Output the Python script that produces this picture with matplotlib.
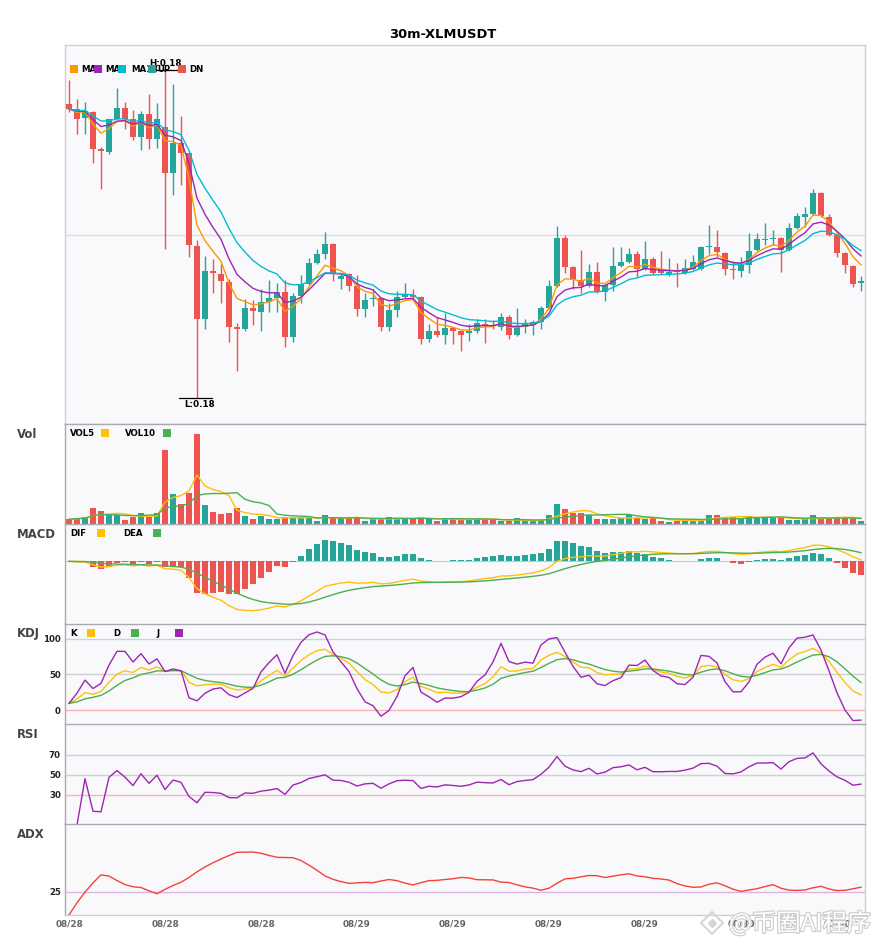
import numpy as np
import pandas as pd
import matplotlib
matplotlib.use("Agg")
import matplotlib.pyplot as plt
from matplotlib.patches import Rectangle
from matplotlib.lines import Line2D
import matplotlib.patheffects as pe

# ---------------- data ----------------
title = "30m-XLMUSDT"
x_label_pos = [0, 12, 24, 36, 48, 60, 72, 84, 96]
x_labels = ["08/28", "08/28", "08/28", "08/29", "08/29", "08/29", "08/29", "08/30", "08/30"]

open_ = [0.18262, 0.18252, 0.18234, 0.18246, 0.18172, 0.18166, 0.18232, 0.18254, 0.18232, 0.18196,
         0.18242, 0.18192, 0.18216, 0.18124, 0.18184, 0.18164, 0.17978, 0.17832, 0.17928, 0.17922,
         0.17906, 0.17816, 0.17812, 0.17854, 0.17846, 0.17866, 0.17874, 0.17886, 0.17796, 0.17878,
         0.17902, 0.17944, 0.17962, 0.17982, 0.17912, 0.17922, 0.17898, 0.17852, 0.17872, 0.17874,
         0.17816, 0.17850, 0.17876, 0.17880, 0.17876, 0.17792, 0.17808, 0.17800, 0.17814, 0.17808,
         0.17804, 0.17808, 0.17822, 0.17820, 0.17816, 0.17836, 0.17800, 0.17816, 0.17820, 0.17826,
         0.17854, 0.17898, 0.17994, 0.17936, 0.17910, 0.17898, 0.17926, 0.17886, 0.17900, 0.17938,
         0.17946, 0.17962, 0.17932, 0.17952, 0.17932, 0.17922, 0.17928, 0.17924, 0.17932, 0.17932,
         0.17976, 0.17976, 0.17964, 0.17932, 0.17928, 0.17940, 0.17970, 0.17990, 0.17992, 0.17994,
         0.17970, 0.18014, 0.18036, 0.18042, 0.18084, 0.18036, 0.18000, 0.17964, 0.17938, 0.17904]
high = [0.18310, 0.18272, 0.18266, 0.18248, 0.18176, 0.18232, 0.18294, 0.18266, 0.18250, 0.18248,
        0.18282, 0.18264, 0.18330, 0.18302, 0.18238, 0.18164, 0.17990, 0.17958, 0.17952, 0.17942,
        0.17912, 0.17824, 0.17872, 0.17870, 0.17892, 0.17910, 0.17904, 0.17910, 0.17884, 0.17920,
        0.17954, 0.17972, 0.18006, 0.17984, 0.17924, 0.17924, 0.17920, 0.17884, 0.17892, 0.17876,
        0.17864, 0.17888, 0.17904, 0.17892, 0.17878, 0.17822, 0.17836, 0.17844, 0.17816, 0.17810,
        0.17822, 0.17832, 0.17832, 0.17830, 0.17844, 0.17840, 0.17854, 0.17832, 0.17830, 0.17858,
        0.17910, 0.18018, 0.18000, 0.17938, 0.17970, 0.17942, 0.17946, 0.17902, 0.17976, 0.17976,
        0.17974, 0.17968, 0.17988, 0.17956, 0.17968, 0.17954, 0.17944, 0.17952, 0.17960, 0.17978,
        0.18020, 0.18010, 0.17966, 0.17948, 0.17956, 0.18004, 0.18004, 0.18024, 0.18010, 0.17996,
        0.18024, 0.18044, 0.18056, 0.18092, 0.18086, 0.18042, 0.18002, 0.17966, 0.17940, 0.17918]
low = [0.18246, 0.18202, 0.18202, 0.18144, 0.18092, 0.18162, 0.18232, 0.18212, 0.18190, 0.18170,
       0.18172, 0.18174, 0.17972, 0.18080, 0.18100, 0.17956, 0.17674, 0.17812, 0.17884, 0.17864,
       0.17786, 0.17728, 0.17808, 0.17820, 0.17808, 0.17846, 0.17846, 0.17776, 0.17786, 0.17864,
       0.17900, 0.17942, 0.17952, 0.17908, 0.17892, 0.17888, 0.17838, 0.17836, 0.17858, 0.17808,
       0.17808, 0.17836, 0.17874, 0.17870, 0.17782, 0.17786, 0.17796, 0.17782, 0.17782, 0.17768,
       0.17788, 0.17804, 0.17784, 0.17812, 0.17810, 0.17792, 0.17798, 0.17804, 0.17800, 0.17812,
       0.17852, 0.17896, 0.17924, 0.17892, 0.17884, 0.17896, 0.17884, 0.17868, 0.17888, 0.17936,
       0.17944, 0.17916, 0.17930, 0.17922, 0.17922, 0.17918, 0.17896, 0.17922, 0.17930, 0.17930,
       0.17962, 0.17956, 0.17920, 0.17912, 0.17916, 0.17924, 0.17968, 0.17980, 0.17980, 0.17926,
       0.17968, 0.18012, 0.18016, 0.18040, 0.18036, 0.17998, 0.17956, 0.17924, 0.17896, 0.17888]
close = [0.18252, 0.18232, 0.18248, 0.18172, 0.18168, 0.18232, 0.18254, 0.18232, 0.18196, 0.18242,
         0.18192, 0.18232, 0.18124, 0.18184, 0.18164, 0.17980, 0.17832, 0.17928, 0.17924, 0.17908,
         0.17816, 0.17812, 0.17854, 0.17848, 0.17866, 0.17874, 0.17886, 0.17796, 0.17878, 0.17902,
         0.17944, 0.17962, 0.17982, 0.17922, 0.17918, 0.17898, 0.17852, 0.17870, 0.17874, 0.17816,
         0.17850, 0.17876, 0.17880, 0.17876, 0.17792, 0.17808, 0.17800, 0.17814, 0.17808, 0.17800,
         0.17808, 0.17824, 0.17820, 0.17818, 0.17836, 0.17800, 0.17816, 0.17822, 0.17826, 0.17854,
         0.17898, 0.17994, 0.17936, 0.17910, 0.17898, 0.17926, 0.17886, 0.17900, 0.17938, 0.17946,
         0.17962, 0.17932, 0.17952, 0.17924, 0.17924, 0.17926, 0.17926, 0.17934, 0.17946, 0.17976,
         0.17978, 0.17966, 0.17932, 0.17930, 0.17940, 0.17968, 0.17992, 0.17992, 0.17994, 0.17970,
         0.18014, 0.18038, 0.18042, 0.18084, 0.18038, 0.18000, 0.17964, 0.17940, 0.17902, 0.17908]
volume = [47, 60, 67, 160, 133, 87, 87, 40, 73, 107,
          73, 107, 740, 300, 200, 313, 900, 190, 120, 100,
          110, 160, 80, 50, 80, 53, 53, 67, 67, 67,
          67, 27, 93, 60, 60, 60, 60, 33, 47, 47,
          73, 53, 60, 53, 73, 47, 27, 53, 47, 47,
          53, 53, 47, 40, 27, 27, 60, 27, 27, 40,
          93, 200, 153, 113, 107, 87, 53, 53, 47, 60,
          87, 60, 47, 60, 33, 20, 33, 33, 47, 33,
          93, 93, 67, 67, 53, 80, 67, 67, 67, 60,
          40, 40, 47, 87, 60, 60, 73, 60, 73, 27]
ma_spans = [5, 8, 13]
ma_labels = ["MA5", "MA8", "MA13"]
vol_ma_periods = [5, 10]
adx_period = 14

# ---------------- indicators ----------------
o = pd.Series(open_); h = pd.Series(high); l = pd.Series(low); c = pd.Series(close)
v = pd.Series(volume, dtype=float)
n = len(c)
xs = np.arange(n)

mas = [c.ewm(span=s, adjust=False).mean() for s in ma_spans]
vol_mas = [v.rolling(p, min_periods=1).mean() for p in vol_ma_periods]

ema12 = c.ewm(span=12, adjust=False).mean()
ema26 = c.ewm(span=26, adjust=False).mean()
dif = ema12 - ema26
dea = dif.ewm(span=9, adjust=False).mean()
hist = 2 * (dif - dea)

llv = l.rolling(9, min_periods=1).min()
hhv = h.rolling(9, min_periods=1).max()
rsv = (c - llv) / (hhv - llv) * 100
K = rsv.ewm(alpha=1/3, adjust=False).mean()
D = K.ewm(alpha=1/3, adjust=False).mean()
J = 3 * K - 2 * D

d = c.diff()
gain = d.clip(lower=0); loss = (-d).clip(lower=0)
rsi = gain.ewm(alpha=1/14, adjust=True).mean() / (gain + loss).ewm(alpha=1/14, adjust=True).mean() * 100

pc = c.shift(1)
tr = pd.concat([h - l, (h - pc).abs(), (l - pc).abs()], axis=1).max(axis=1)
up = (h - h.shift(1)).fillna(0); dn = (l.shift(1) - l).fillna(0)
pdm = pd.Series(np.where((up > dn) & (up > 0), up, 0.0))
mdm = pd.Series(np.where((dn > up) & (dn > 0), dn, 0.0))
atr = tr.ewm(span=adx_period, adjust=False).mean()
pdi = 100 * pdm.ewm(span=adx_period, adjust=False).mean() / atr
mdi = 100 * mdm.ewm(span=adx_period, adjust=False).mean() / atr
dx = (100 * (pdi - mdi).abs() / (pdi + mdi)).fillna(0)
adx = dx.ewm(span=adx_period, adjust=False).mean()

# ---------------- style ----------------
UPC = "#26a69a"; DNC = "#ef5350"
MA_COLORS = ["#ff9800", "#9c27b0", "#00bcd4"]
YEL = "#ffc107"; GRN = "#4caf50"; PUR = "#9c27b0"; ADXC = "#f44336"
BG = "#f9f9fb"; FRAME = "#cfcfd8"; SEP = "#a9a9b2"

W, H = 885, 950
fig = plt.figure(figsize=(W / 100, H / 100), dpi=100)
fig.patch.set_facecolor("white")

def rect(lf, t, r, b):
    return [lf / W, 1 - b / H, (r - lf) / W, (b - t) / H]

def fx(x):
    return x / W

def fy(y):
    return 1 - y / H

ax_main = fig.add_axes(rect(65, 45, 865, 424))
ax_vol = fig.add_axes(rect(65, 424, 865, 524))
ax_macd = fig.add_axes(rect(65, 524, 865, 624))
ax_kdj = fig.add_axes(rect(65, 624, 865, 724))
ax_rsi = fig.add_axes(rect(65, 724, 865, 824))
ax_adx = fig.add_axes(rect(65, 824, 865, 915))
subs = [ax_vol, ax_macd, ax_kdj, ax_rsi, ax_adx]

for ax in [ax_main] + subs:
    ax.set_facecolor(BG)
    ax.set_xlim(-0.5, n - 0.5)
    ax.set_xticks([])
    ax.set_yticks([])
    ax.tick_params(length=0)
    for s in ax.spines.values():
        s.set_color(FRAME)
        s.set_linewidth(1)
for ax in subs:
    ax.spines["top"].set_color(SEP)
    ax.spines["left"].set_color(SEP)
    ax.spines["bottom"].set_visible(ax is ax_adx)

# ---------------- main candles ----------------
colors = [UPC if cc >= oo else DNC for oo, cc in zip(open_, close)]
ax_main.set_ylim(0.17622, 0.18380)
ax_main.axhline(0.18, color="#dddddf", lw=1, zorder=0)
ax_main.vlines(xs, l, h, colors=colors, lw=1.0, zorder=2)
body_lo = np.minimum(o, c)
body_h = np.maximum((c - o).abs(), 0.000015)
ax_main.bar(xs, body_h, bottom=body_lo, width=0.75, color=colors, zorder=3, linewidth=0)
for m, col in zip(mas, MA_COLORS):
    ax_main.plot(xs, m, color=col, lw=1.0, zorder=4)

ih = int(np.argmax(high)); il = int(np.argmin(low))
ax_main.plot([ih - 1.6, ih + 1.6], [high[ih], high[ih]], color="black", lw=0.9, zorder=5)
ax_main.text(ih, high[ih] + 0.00003, f"H:{high[ih]:.2f}", ha="center", va="bottom",
             fontsize=6.3, fontweight="bold", zorder=6)
ax_main.plot([il - 2.3, il + 1.9], [low[il], low[il]], color="black", lw=0.9, zorder=5)
ax_main.text(il + 0.3, low[il] - 0.00005, f"L:{low[il]:.2f}", ha="center", va="top",
             fontsize=6.3, fontweight="bold", zorder=6)

# main legend (squares drawn over the label tails, as in the original)
leg_items = [(70, 81, MA_COLORS[0], ma_labels[0]), (94, 105, MA_COLORS[1], ma_labels[1]),
             (118, 131, MA_COLORS[2], ma_labels[2]), (148, 157, UPC, "UP"), (178, 189, DNC, "DN")]
for sq, tx, col, lab in leg_items:
    fig.text(fx(tx), fy(69), lab, fontsize=6.2, fontweight="bold", va="center", ha="left", zorder=4)
    fig.patches.append(Rectangle((fx(sq), fy(72.5)), 7.5 / W, 7.5 / H, transform=fig.transFigure,
                                 facecolor=col, edgecolor="none", zorder=5))

# ---------------- volume ----------------
ax_vol.set_ylim(0, 1000)
ax_vol.bar(xs, v, width=0.75, color=colors, linewidth=0, zorder=2)
ax_vol.plot(xs, vol_mas[0], color=YEL, lw=1.0, zorder=3)
ax_vol.plot(xs, vol_mas[1], color=GRN, lw=1.0, zorder=3)

# ---------------- MACD ----------------
m_min = dif.min()
span = -m_min / (0.627 - 0.133)
lo = -0.627 * span
ax_macd.set_ylim(lo, lo + span)
hcol = [UPC if hv >= 0 else DNC for hv in hist]
ax_macd.bar(xs, hist, width=0.75, color=hcol, linewidth=0, zorder=2)
ax_macd.axhline(0, color="#c8c8d0", lw=0.8, zorder=1)
ax_macd.plot(xs, dif, color=YEL, lw=1.0, zorder=3)
ax_macd.plot(xs, dea, color=GRN, lw=1.0, zorder=3)

# ---------------- KDJ ----------------
ax_kdj.set_ylim(-19.7, 121.1)
ax_kdj.axhline(100, color="#b2dfdb", lw=1, zorder=1)
ax_kdj.axhline(50, color="#cfcfd4", lw=1, zorder=1)
ax_kdj.axhline(0, color="#f8b4b4", lw=1, zorder=1)
ax_kdj.plot(xs, K, color=YEL, lw=1.0, zorder=3)
ax_kdj.plot(xs, D, color=GRN, lw=1.0, zorder=3)
ax_kdj.plot(xs, J, color=PUR, lw=1.0, zorder=3)
ax_kdj.set_yticks([0, 50, 100])

# ---------------- RSI ----------------
ax_rsi.set_ylim(1, 101)
ax_rsi.axhline(70, color="#b2dfdb", lw=1, zorder=1)
ax_rsi.axhline(50, color="#cfcfd4", lw=1, zorder=1)
ax_rsi.axhline(30, color="#f8b4b4", lw=1, zorder=1)
ax_rsi.plot(xs, rsi, color=PUR, lw=1.0, zorder=3)
ax_rsi.set_yticks([30, 50, 70])

# ---------------- ADX ----------------
ax_adx.set_ylim(0, 98.9)
ax_adx.axhline(25, color="#dcb3e6", lw=1, zorder=1)
ax_adx.plot(xs, adx, color=ADXC, lw=1.0, zorder=3)
ax_adx.set_yticks([25])

for ax in [ax_kdj, ax_rsi, ax_adx]:
    ax.tick_params(axis="y", length=0, pad=3, labelsize=6.2, labelcolor="#222222")
    for t in ax.get_yticklabels():
        t.set_fontweight("bold")

ax_adx.set_xticks(x_label_pos)
ax_adx.set_xticklabels(x_labels, fontsize=6.4, fontweight="bold", color="#666666")
ax_adx.tick_params(axis="x", length=0, pad=3)

# ---------------- panel legends & labels ----------------
def sub_legend(yc, items):
    for tx, sq, col, lab in items:
        fig.text(fx(tx), fy(yc), lab, fontsize=6.2, fontweight="bold", va="center", ha="left")
        fig.patches.append(Rectangle((fx(sq), fy(yc + 3.8)), 7.5 / W, 7.5 / H,
                                     transform=fig.transFigure, facecolor=col,
                                     edgecolor="none", zorder=5))

sub_legend(433, [(70, 101, YEL, "VOL5"), (125, 163, GRN, "VOL10")])
sub_legend(533, [(70, 97, YEL, "DIF"), (123, 153, GRN, "DEA")])
sub_legend(633, [(70, 87, YEL, "K"), (113, 131, GRN, "D"), (157, 175, PUR, "J")])

for lab, yc in [("Vol", 435), ("MACD", 535), ("KDJ", 634), ("RSI", 735), ("ADX", 835)]:
    fig.text(fx(17), fy(yc), lab, fontsize=8.4, fontweight="bold", color="#444444",
             va="center", ha="left")

fig.text(fx(443), fy(34), title, fontsize=9.4, fontweight="bold", ha="center", va="center")

# watermark
fig.add_artist(Line2D([fx(712)], [fy(923)], marker="D", markersize=11, mfc="none",
                      mec="#d4d4d4", mew=1.4, transform=fig.transFigure))
fig.add_artist(Line2D([fx(712)], [fy(923)], marker="D", markersize=4, mfc="#d4d4d4",
                      mec="#d4d4d4", transform=fig.transFigure))
fig.text(fx(729), fy(924), "@币圈AI程序", fontsize=17.5, color="white", ha="left", va="center",
         family=["Noto Sans CJK SC", "DejaVu Sans"],
         path_effects=[pe.withStroke(linewidth=1.6, foreground="#cccccc")], zorder=10)

fig.savefig("out.png", dpi=100)
